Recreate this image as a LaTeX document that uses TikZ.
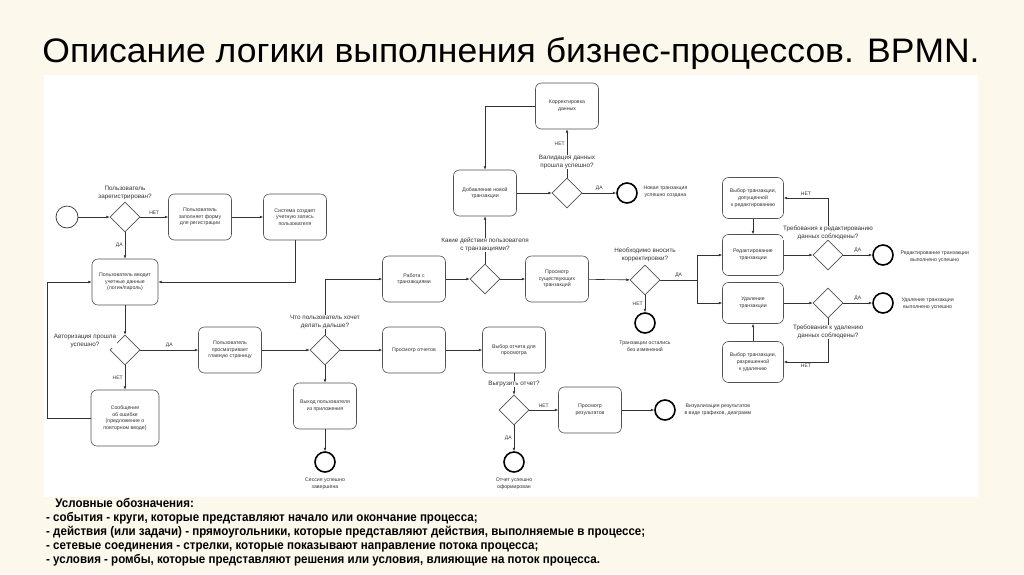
\documentclass[tikz,border=0pt]{standalone}
\usepackage{fontspec}
\setmainfont{Liberation Sans}
\usetikzlibrary{shapes.geometric,arrows.meta}

\definecolor{slidebg}{HTML}{FDF8EC}
\definecolor{ink}{HTML}{333333}

\tikzset{
  ->/.style={draw=ink,line width=0.6pt,-{Latex[length=3.4pt,width=2.8pt]}},
  task/.style={draw=ink!85,line width=0.6pt,rounded corners=6pt,minimum width=63pt,minimum height=46pt,
    align=center,inner sep=1pt,font=\fontsize{5.2}{6.7}\selectfont},
  smalltask/.style={task,minimum width=61pt,minimum height=41pt},
  gate/.style={draw=ink!85,line width=0.6pt,diamond,minimum size=30pt,inner sep=0pt},
  startev/.style={draw=ink,line width=0.7pt,circle,minimum size=22pt,inner sep=0pt},
  endev/.style={draw=black,line width=1.6pt,circle,minimum size=20pt,inner sep=0pt},
  question/.style={align=center,fill=white,inner sep=0.6pt,font=\fontsize{6.3}{7.4}\selectfont},
  note/.style={align=center,font=\fontsize{5.2}{7.4}\selectfont},
  yesno/.style={font=\fontsize{5}{6}\selectfont,inner sep=2pt}
}
\tikzstyle{every node}=[color=ink]

\begin{document}
\begin{tikzpicture}[x=1pt,y=-1pt]
    \fill[slidebg] (0,0) rectangle (1024,574);
    \useasboundingbox (0,0) rectangle (1024,574);
    \fill[white] (44,75) rectangle (978,497);

    \node[anchor=base,color=black] (title) at (511,62)
    {\resizebox{937pt}{\height}{\fontsize{34}{40}\selectfont Описание логики выполнения бизнес-процессов. BPMN.}};

    % login and main page
    \node[startev] (S) at (67,217) {};
    \node[gate] (G1) at (125,217) {};
    \node[task] (T1) at (200,217) {Пользователь\\заполняет форму\\для регистрации};
    \node[task] (T2) at (295,217) {Система создает\\учетную запись\\пользователя};
    \node[task,minimum width=66pt] (T3) at (125,282) {Пользователь вводит\\учетные данные\\(логин/пароль)};
    \node[gate] (G2) at (125,350) {};
    \node[task,minimum width=68pt,minimum height=56pt] (T4) at (125,418) {Сообщение\\об ошибке\\(предложение о\\повторном вводе)};
    \node[task] (T5) at (230,350) {Пользователь\\просматривает\\главную страницу};
    \node[gate] (G3) at (325,350) {};
    \node[task] (T6) at (325,406) {Выход пользователя\\из приложения};
    \node[endev] (E1) at (325,462) {};

    % reports
    \node[task] (T7) at (414,350) {Просмотр отчетов};
    \node[task] (T8) at (514,350) {Выбор отчета для\\просмотра};
    \node[gate] (G4) at (514,410) {};
    \node[endev] (E2) at (514,462) {};
    \node[task] (T9) at (590,410) {Просмотр\\результатов};
    \node[endev] (E3) at (665,410) {};

    % transactions
    \node[task] (T10) at (414,279) {Работа с\\транзакциями};
    \node[gate] (G5) at (485,279) {};
    \node[task] (T11) at (485,193) {Добавление новой\\транзакции};
    \node[gate] (G6) at (567,193) {};
    \node[task] (T12) at (567,106) {Корректировка\\данных};
    \node[endev] (E4) at (627,193) {};
    \node[task] (T13) at (557,279) {Просмотр\\существующих\\транзакций};
    \node[gate] (G7) at (645,280) {};
    \node[endev] (E5) at (645,323) {};
    \coordinate (F) at (697,280);
    \node[smalltask] (T14) at (753,255) {Редактирование\\транзакции};
    \node[smalltask] (T15) at (753,198) {Выбор транзакции,\\допущенной\\к редактированию};
    \node[gate] (G8) at (828,255) {};
    \node[endev] (E6) at (883,255) {};
    \node[smalltask] (T16) at (753,303) {Удаление\\транзакции};
    \node[smalltask] (T17) at (753,362) {Выбор транзакции,\\разрешенной\\к удалению};
    \node[gate] (G9) at (828,303) {};
    \node[endev] (E7) at (883,303) {};

    \draw[->] (S) -- (G1);
    \draw[->] (G1) -- node[yesno,above] {НЕТ} (T1);
    \draw[->] (T1) -- (T2);
    \draw[->] (T2.south) |- (T3.east);
    \draw[->] (G1) -- node[yesno,left] {ДА} (T3);
    \draw[->] (T3) -- (G2);
    \draw[->] (G2) -- node[yesno,above] {ДА} (T5);
    \draw[->] (G2) -- node[yesno,left] {НЕТ} (T4);
    \draw[->] (T4.west) -- ++(-43,0) |- (T3.west);
    \draw[->] (T5) -- (G3);
    \draw[->] (G3) -- (T6);
    \draw[->] (T6) -- (E1);
    \draw[->] (G3) -- (T7);
    \draw[->] (T7) -- (T8);
    \draw[->] (T8) -- (G4);
    \draw[->] (G4) -- node[yesno,left] {ДА} (E2);
    \draw[->] (G4) -- node[yesno,above] {НЕТ} (T9);
    \draw[->] (T9) -- (E3);
    \draw[->] (G3.north) |- (T10.west);
    \draw[->] (T10) -- (G5);
    \draw[->] (G5) -- (T11);
    \draw[->] (G5) -- (T13);
    \draw[->] (T11) -- (G6);
    \draw[->] (G6) -- node[yesno,left,pos=0.7] {НЕТ} (T12);
    \draw[->] (T12.west) -| (T11.north);
    \draw[->] (G6) -- node[yesno,above] {ДА} (E4);
    \draw[->] (T13) -- (G7);
    \draw[->] (G7) -- node[yesno,left] {НЕТ} (E5);
    \draw[draw=ink,line width=0.6pt] (G7) -- node[yesno,above] {ДА} (F);
    \draw[->] (F) |- (T14);
    \draw[->] (F) |- (T16);
    \draw[->] (T15) -- (T14);
    \draw[->] (T14) -- (G8);
    \draw[->] (G8) -- node[yesno,above] {ДА} (E6);
    \draw[->] (G8.north) |- node[yesno,above,pos=0.75] {НЕТ} (T15.east);
    \draw[->] (T17) -- (T16);
    \draw[->] (T16) -- (G9);
    \draw[->] (G9) -- node[yesno,above] {ДА} (E7);
    \draw[->] (G9.south) |- node[yesno,below,pos=0.75] {НЕТ} (T17.east);

    % questions over the lines
    \node[question] (Q1) at (125,193) {Пользователь\\зарегистрирован?};
    \node[question] (Q2) at (85,341) {Авторизация прошла\\успешно?};
    \node[question] (Q3) at (325,322) {Что пользователь хочет\\делать дальше?};
    \node[question] (Q4) at (514,384) {Выгрузить отчет?};
    \node[question] (Q5) at (485,245) {Какие действия пользователя\\с транзакциями?};
    \node[question] (Q6) at (567,162) {Валидация данных\\прошла успешно?};
    \node[question] (Q7) at (645,255) {Необходимо вносить\\корректировки?};
    \node[question] (Q8) at (828,233) {Требования к редактированию\\данных соблюдены?};
    \node[question] (Q9) at (828,332) {Требования к удалению\\данных соблюдены?};

    \node[note] (N1) at (325,484) {Сессия успешно\\завершена};
    \node[note] (N2) at (514,484) {Отчет успешно\\оформирован};
    \node[note,anchor=west] (N3) at (681,410) {Визуализация результатов\\в виде графиков, диаграмм};
    \node[note,anchor=west] (N4) at (640,192) {Новая транзакция\\успешно создана};
    \node[note] (N5) at (645,346) {Транзакции остались\\без изменений};
    \node[note,anchor=west] (N6) at (897,257) {Редактирование транзакции\\выполнено успешно};
    \node[note,anchor=west] (N7) at (898,304) {Удаление транзакции\\выполнено успешно};

    \node[anchor=base west,inner sep=0pt,color=black] (legend) at (46,507)
    {\resizebox{599pt}{\height}{\fontsize{12.5}{14}\selectfont\bfseries
      \begin{tabular}[t]{@{}l@{}}
        \hspace*{10pt}Условные обозначения:\\
        - события - круги, которые представляют начало или окончание процесса;\\
        - действия (или задачи) - прямоугольники, которые представляют действия, выполняемые в процессе;\\
        - сетевые соединения - стрелки, которые показывают направление потока процесса;\\
        - условия - ромбы, которые представляют решения или условия, влияющие на поток процесса.
      \end{tabular}}};
\end{tikzpicture}
\end{document}
